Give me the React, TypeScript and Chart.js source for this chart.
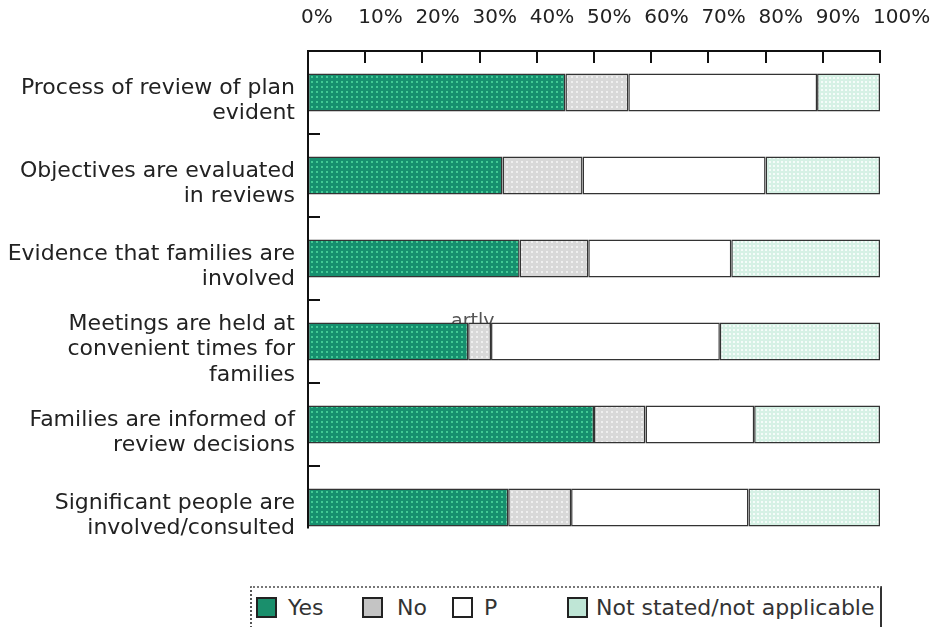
import React, { useEffect, useRef } from "react";
import { Chart, registerables } from "chart.js";

Chart.register(...registerables);

const categories: string[][] = [
  ["Process of review of plan", "evident"],
  ["Objectives are evaluated", "in reviews"],
  ["Evidence that families are", "involved"],
  ["Meetings are held at", "convenient times for", "families"],
  ["Families are informed of", "review decisions"],
  ["Significant people are", "involved/consulted"],
];

const yesValues = [45, 34, 37, 28, 50, 35];
const noValues = [11, 14, 12, 4, 9, 11];
const partlyValues = [33, 32, 25, 40, 19, 31];
const notStatedValues = [11, 20, 26, 28, 22, 23];

const seriesNames = ["Yes", "No", "P", "Not stated/not applicable"];
const xTickValues = [0, 10, 20, 30, 40, 50, 60, 70, 80, 90, 100];
const strayLabel = "artly";
const strayLabelRow = 3;
const strayLabelValue = 25;

const FONT = "'DejaVu Sans', sans-serif";

function makePattern(base: string, dot: string, size: number, dotSize: number) {
  const c = document.createElement("canvas");
  c.width = size;
  c.height = size;
  const g = c.getContext("2d")!;
  g.fillStyle = base;
  g.fillRect(0, 0, size, size);
  g.fillStyle = dot;
  g.fillRect(1, 1, dotSize, dotSize);
  const p = g.createPattern(c, "repeat");
  return p || base;
}

export default function App() {
  const canvasRef = useRef<HTMLCanvasElement | null>(null);

  useEffect(() => {
    const canvas = canvasRef.current;
    if (!canvas) return;

    const yesFill = makePattern("#168f6e", "#42c994", 5, 2);
    const noFill = makePattern("#d8d8d8", "#efefef", 5, 2);
    const nsFill = makePattern("#d6f1e5", "#f5fcf9", 4, 2);

    const axisPlugin = {
      id: "innerTicks",
      beforeDatasetsDraw(chart: any) {
        const ctx = chart.ctx;
        const meta = chart.getDatasetMeta(1);
        const el = meta.data[strayLabelRow] as any;
        if (el) {
          const x = chart.scales.x.getPixelForValue(strayLabelValue);
          const top = el.y - el.height / 2;
          ctx.save();
          ctx.font = `19px ${FONT}`;
          ctx.fillStyle = "#555";
          ctx.textAlign = "left";
          ctx.textBaseline = "alphabetic";
          ctx.fillText(strayLabel, x, top + 5);
          ctx.restore();
        }
      },
      afterDatasetsDraw(chart: any) {
        const ctx = chart.ctx;
        const xs = chart.scales.x;
        const ys = chart.scales.y;
        const area = chart.chartArea;
        ctx.save();
        ctx.strokeStyle = "#111";
        ctx.lineWidth = 2;
        xTickValues.forEach((v) => {
          const px = Math.round(xs.getPixelForValue(v));
          ctx.beginPath();
          ctx.moveTo(px, area.top);
          ctx.lineTo(px, area.top + 12);
          ctx.stroke();
        });
        for (let i = 0; i < categories.length - 1; i++) {
          const py = Math.round((ys.getPixelForTick(i) + ys.getPixelForTick(i + 1)) / 2);
          ctx.beginPath();
          ctx.moveTo(area.left, py);
          ctx.lineTo(area.left + 12, py);
          ctx.stroke();
        }
        // left axis line, down to the bottom of the last bar
        const lastMeta = chart.getDatasetMeta(0);
        const lastEl = lastMeta.data[categories.length - 1] as any;
        const bottom = lastEl ? lastEl.y + lastEl.height / 2 + 2 : area.bottom;
        ctx.beginPath();
        ctx.moveTo(area.left, area.top);
        ctx.lineTo(area.left, bottom);
        ctx.stroke();
        ctx.restore();
      },
    };

    const common = {
      borderColor: "#333",
      borderWidth: 1.5,
      borderSkipped: false,
      barPercentage: 0.46,
      categoryPercentage: 1,
    };

    const chart = new Chart(canvas, {
      type: "bar",
      data: {
        labels: categories,
        datasets: [
          { label: seriesNames[0], data: yesValues, backgroundColor: yesFill as any, ...common },
          { label: seriesNames[1], data: noValues, backgroundColor: noFill as any, ...common },
          { label: seriesNames[2], data: partlyValues, backgroundColor: "#ffffff", ...common },
          { label: seriesNames[3], data: notStatedValues, backgroundColor: nsFill as any, ...common },
        ],
      },
      options: {
        indexAxis: "y",
        responsive: false,
        animation: false,
        devicePixelRatio: 1,
        layout: { padding: { top: 0, left: 0, right: 53, bottom: 31 } },
        plugins: {
          legend: { display: false },
          tooltip: { enabled: false },
        },
        scales: {
          x: {
            position: "top",
            stacked: true,
            min: 0,
            max: 100,
            grid: { display: false, drawTicks: false },
            border: { display: true, color: "#111", width: 2 },
            ticks: {
              stepSize: 10,
              autoSkip: false,
              maxRotation: 0,
              align: "start",
              labelOffset: -7,
              padding: 21,
              color: "#222",
              font: { family: FONT, size: 20 },
              callback: (v: any) => `${v}%`,
            },
            afterFit: (s: any) => {
              s.height = 51;
              s.paddingLeft = 0;
              s.paddingRight = 0;
            },
          },
          y: {
            stacked: true,
            grid: { display: false, drawTicks: false },
            border: { display: false },
            ticks: {
              autoSkip: false,
              padding: 13,
              labelOffset: 8,
              color: "#222",
              font: { family: FONT, size: 22, lineHeight: 1.15 },
            },
            afterFit: (s: any) => {
              s.width = 308;
              s.paddingTop = 0;
              s.paddingBottom = 0;
            },
          },
        },
      },
      plugins: [axisPlugin],
    } as any);

    return () => chart.destroy();
  }, []);

  const swatch = (left: number, bg: string) => (
    <div
      style={{
        position: "absolute",
        left,
        top: 597,
        width: 17,
        height: 17,
        border: "2.5px solid #222",
        background: bg,
      }}
    />
  );
  const text = (left: number, s: string) => (
    <div
      style={{
        position: "absolute",
        left,
        top: 597,
        font: `22px ${FONT}`,
        lineHeight: "22px",
        color: "#333",
        whiteSpace: "nowrap",
      }}
    >
      {s}
    </div>
  );

  return (
    <div
      style={{
        position: "fixed",
        left: 0,
        top: 0,
        width: 933,
        height: 627,
        overflow: "hidden",
        background: "#fff",
      }}
    >
      <canvas ref={canvasRef} width={933} height={580} style={{ position: "absolute", left: 0, top: 0 }} />
      <div
        style={{
          position: "absolute",
          left: 250,
          top: 586,
          width: 628,
          height: 60,
          borderTop: "2px dotted #777",
          borderLeft: "2px dotted #555",
          borderRight: "2px solid #333",
        }}
      />
      {swatch(256, "#1a8f6c")}
      {text(288, seriesNames[0])}
      {swatch(362, "#c4c4c4")}
      {text(397, seriesNames[1])}
      {swatch(452, "#ffffff")}
      {text(484, seriesNames[2])}
      {swatch(567, "#bfe6d6")}
      {text(596, seriesNames[3])}
    </div>
  );
}
